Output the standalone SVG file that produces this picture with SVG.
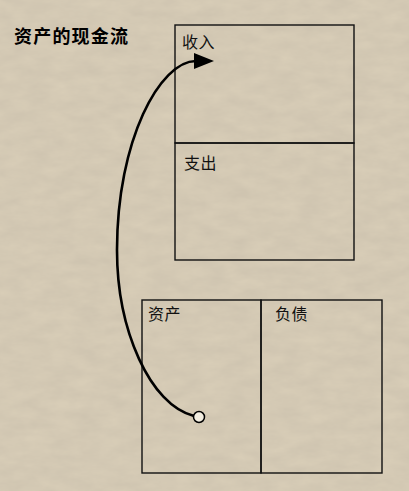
<svg xmlns="http://www.w3.org/2000/svg" width="409" height="491" viewBox="0 0 409 491">
<defs>
<filter id="paper" x="0" y="0" width="100%" height="100%">
<feTurbulence type="fractalNoise" baseFrequency="0.04 0.09" numOctaves="4" seed="7" result="n"/>
<feColorMatrix in="n" type="matrix" values="0 0 0 0 0.45  0 0 0 0 0.40  0 0 0 0 0.33  0 0 0 0.35 -0.05"/>
</filter>
<marker id="arr" viewBox="0 0 20 16" refX="2" refY="8" markerWidth="20" markerHeight="16" markerUnits="userSpaceOnUse" orient="auto">
<path d="M0,0 L20,8 L0,16 Z" fill="#000"/>
</marker>
<style>
.box{fill:none;stroke:#111;stroke-width:1.4}
.lbl{font-family:"Noto Sans CJK SC","Noto Sans",sans-serif;font-size:16px;fill:#111;letter-spacing:0.5px}
.title{font-family:"Noto Sans CJK SC","Noto Sans",sans-serif;font-size:18px;font-weight:bold;fill:#000;letter-spacing:1.2px}
.flow{fill:none;stroke:#000;stroke-width:2.6}
</style>
</defs>
<rect width="409" height="491" fill="#d8cdb7"/>
<rect width="409" height="491" filter="url(#paper)"/>
<text class="title" x="14" y="43">资产的现金流</text>
<g id="income">
<rect class="box" x="175" y="25" width="179" height="118"/>
<text class="lbl" x="182" y="48">收入</text>
</g>
<g id="expense">
<rect class="box" x="175" y="143" width="179" height="117"/>
<text class="lbl" x="184" y="169">支出</text>
</g>
<g id="assets">
<rect class="box" x="142" y="300" width="119" height="173"/>
<text class="lbl" x="148" y="320">资产</text>
</g>
<g id="liabilities">
<rect class="box" x="261" y="300" width="121" height="173"/>
<text class="lbl" x="275" y="320">负债</text>
</g>
<g id="connectors">
<path class="flow" d="M194,416 C150,405 117,330 117,250 C117,140 160,61 196,61" marker-end="url(#arr)"/>
<circle cx="199" cy="417" r="5.5" fill="#f2ede0" stroke="#000" stroke-width="1.5"/>
</g>
</svg>
